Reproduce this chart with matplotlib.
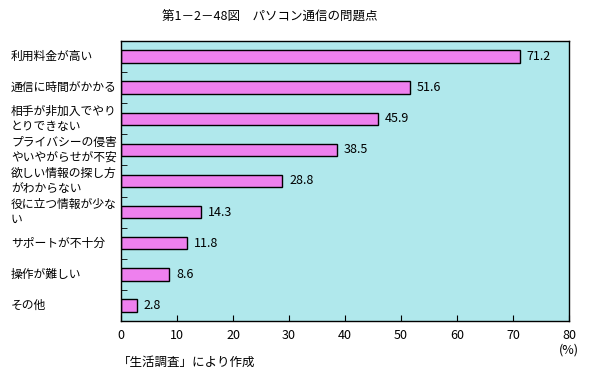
import matplotlib
matplotlib.use("Agg")
import matplotlib.pyplot as plt
from matplotlib.ticker import FixedLocator

plt.rcParams['font.family'] = ['Noto Sans CJK JP', 'DejaVu Sans']

categories = ["利用料金が高い", "通信に時間がかかる", "相手が非加入でやり\nとりできない",
              "プライバシーの侵害\nやいやがらせが不安", "欲しい情報の探し方\nがわからない",
              "役に立つ情報が少な\nい", "サポートが不十分", "操作が難しい", "その他"]
values = [71.2, 51.6, 45.9, 38.5, 28.8, 14.3, 11.8, 8.6, 2.8]
value_labels = ["71.2", "51.6", "45.9", "38.5", "28.8", "14.3", "11.8", "8.6", "2.8"]
xticks = [0, 10, 20, 30, 40, 50, 60, 70, 80]

W, H = 589, 379
fig = plt.figure(figsize=(W / 100, H / 100), dpi=100)
ax = fig.add_axes([121 / W, 1 - 321 / H, (569 - 121) / W, (321 - 41) / H])
ax.set_facecolor('#b0e8ec')

n = len(categories)
ypos = list(range(n))
ax.barh(ypos, values, height=0.4, color='#ee80ee', edgecolor='black', linewidth=1.0)
for y, v, lab in zip(ypos, values, value_labels):
    ax.annotate(lab, (v, y), xytext=(5, 0), textcoords='offset points',
                va='center', ha='left', fontsize=9)

ax.set_xlim(0, 80)
ax.set_ylim(n - 0.5, -0.5)
ax.set_xticks(xticks)
ax.set_xticklabels([str(t) for t in xticks], fontsize=9)
ax.tick_params(axis='x', direction='in', length=4, pad=6)
ax.set_yticks([])
ax.yaxis.set_minor_locator(FixedLocator([i + 0.5 for i in range(n - 1)]))
ax.tick_params(axis='y', which='minor', direction='in', length=4)
for s in ax.spines.values():
    s.set_linewidth(1.0)

for y, c in zip(ypos, categories):
    ax.text(-110 / 5.6, y, c, ha='left', va='center', fontsize=8.5, linespacing=1.15,
            transform=ax.transData)

fig.text(270 / W, 1 - 17 / H, "第1－2－48図　パソコン通信の問題点", ha='center', va='center', fontsize=9)
fig.text(569 / W, 1 - 350 / H, "(%)", ha='center', va='center', fontsize=9)
fig.text(118 / W, 1 - 362 / H, "「生活調査」により作成", ha='left', va='center', fontsize=9)

fig.savefig("out.png", dpi=100)
